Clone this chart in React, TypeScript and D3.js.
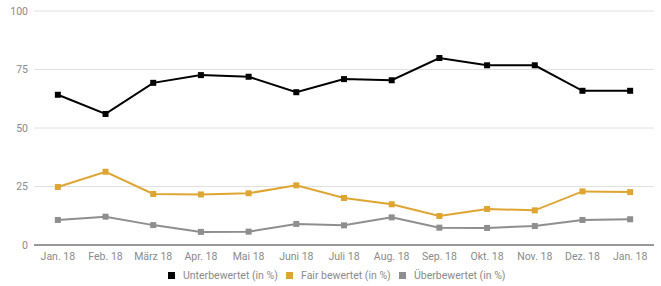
import * as React from "react";
import * as d3 from "d3";

const months = ["Jan. 18", "Feb. 18", "März 18", "Apr. 18", "Mai 18", "Juni 18", "Juli 18", "Aug. 18", "Sep. 18", "Okt. 18", "Nov. 18", "Dez. 18", "Jan. 18 "];
const unterbewertet = [64.2, 56.0, 69.3, 72.6, 71.9, 65.3, 70.9, 70.4, 79.9, 76.8, 76.8, 65.9, 65.9];
const fairBewertet = [24.8, 31.3, 21.8, 21.6, 22.1, 25.5, 20.1, 17.4, 12.4, 15.4, 14.8, 22.9, 22.6];
const ueberbewertet = [10.7, 12.1, 8.5, 5.6, 5.7, 9.0, 8.4, 11.8, 7.4, 7.3, 8.1, 10.7, 11.0];
const yTicks = [0, 25, 50, 75, 100];

const series = [
    { name: "Unterbewertet (in %)", values: unterbewertet, color: "#000000" },
    { name: "Fair bewertet (in %)", values: fairBewertet, color: "#DFA532" },
    { name: "Überbewertet (in %)", values: ueberbewertet, color: "#8E8E8E" },
];

// legend square positions
const legendX = [168, 286, 399];

export default function App() {
    const width = 661;
    const height = 286;

    const xScale = d3.scalePoint<string>().domain(months).range([34, 654]).padding(0.5);
    const yScale = d3.scaleLinear().domain([0, 100]).range([245, 11]);

    const lineGenerator = d3.line<number>()
        .x((_d, i) => xScale(months[i]) || 0)
        .y(d => yScale(d));

    const font = "Roboto, Arial, sans-serif";

    return <div style={{ position: "absolute", left: 0, top: 0 }}>
        <svg width={width} height={height} style={{ display: "block", fontFamily: font }}>
            <rect width={width} height={height} fill="#ffffff" />
            {yTicks.map(t => <g key={t}>
                {t > 0 && <line x1={34} x2={654} y1={yScale(t)} y2={yScale(t)} stroke="#e0e0e0" strokeWidth={1} />}
                <text x={28} y={yScale(t)} dy="0.35em" textAnchor="end" fontSize={10.5} fill="#8a8a8a">{t}</text>
            </g>)}
            <line x1={34} x2={654} y1={yScale(0)} y2={yScale(0)} stroke="#333333" strokeWidth={1} />
            {months.map((m, i) => <text key={i} x={xScale(m)} y={260} textAnchor="middle" fontSize={10.5} fill="#8a8a8a">{m.trim()}</text>)}
            {series.map(s => <g key={s.name}>
                <path d={lineGenerator(s.values) || ""} fill="none" stroke={s.color} strokeWidth={2} />
                {s.values.map((v, i) => <rect key={i} x={(xScale(months[i]) || 0) - 3} y={yScale(v) - 3} width={6} height={6} fill={s.color} />)}
            </g>)}
            {series.map((s, i) => <g key={s.name} transform={`translate(${legendX[i]},275)`}>
                <rect x={0} y={-3} width={7} height={7} fill={s.color} />
                <text x={15} y={0} dy="0.35em" fontSize={10.5} fill="#8a8a8a">{s.name}</text>
            </g>)}
        </svg>
    </div>;
}
